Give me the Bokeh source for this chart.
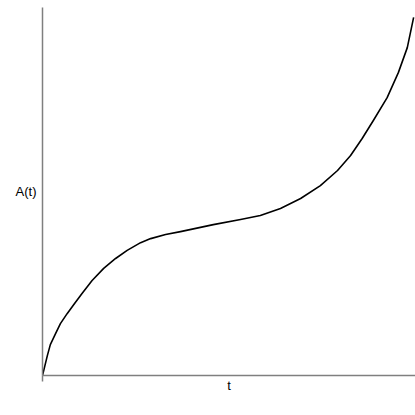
from bokeh.plotting import figure
from bokeh.models import Range1d, FixedTicker
from bokeh.embed import file_html
from bokeh.resources import INLINE

# curve values
t_values = [0.0, 0.13, 0.21, 0.35, 0.48, 0.66, 0.84, 1.06, 1.33, 1.64, 1.96,
            2.27, 2.63, 2.90, 3.30, 3.70, 4.58, 5.31, 5.84, 6.38, 6.92, 7.45,
            7.91, 8.26, 8.57, 8.87, 9.24, 9.54, 9.78, 9.95]
a_values = [0.0, 0.54, 0.84, 1.14, 1.41, 1.68, 1.93, 2.23, 2.58, 2.91, 3.18,
            3.40, 3.61, 3.72, 3.83, 3.91, 4.10, 4.24, 4.35, 4.54, 4.81, 5.16,
            5.57, 5.98, 6.44, 6.93, 7.55, 8.23, 8.91, 9.73]

x_label = "t"
y_label = "A(t)"

p = figure(width=415, height=400, output_backend="svg", toolbar_location=None,
           x_range=Range1d(0, 10), y_range=Range1d(0, 10),
           min_border_left=42, min_border_right=0, min_border_top=7,
           min_border_bottom=25)
p.outline_line_color = None
p.grid.visible = False
p.background_fill_color = "white"
p.border_fill_color = "white"

axis_color = "#7f7f7f"
p.xaxis.ticker = FixedTicker(ticks=[0])
p.xaxis.major_label_overrides = {0: ""}
p.xaxis.major_label_standoff = 0
p.xaxis.major_tick_out = 6
p.xaxis.major_tick_in = 0
p.xaxis.major_tick_line_color = axis_color
p.xaxis.major_tick_line_width = 1.5
p.xaxis.minor_tick_line_color = None
p.xaxis.axis_line_color = axis_color
p.xaxis.axis_line_width = 1.5
p.xaxis.axis_label = x_label
p.xaxis.axis_label_standoff = -4
p.xaxis.axis_label_text_font = "Liberation Sans"
p.xaxis.axis_label_text_font_size = "13px"
p.xaxis.axis_label_text_font_style = "normal"
p.xaxis.axis_label_text_color = "black"

p.yaxis.ticker = FixedTicker(ticks=[])
p.yaxis.major_tick_line_color = None
p.yaxis.minor_tick_line_color = None
p.yaxis.axis_line_color = axis_color
p.yaxis.axis_line_width = 1.5
p.yaxis.axis_label = y_label
p.yaxis.axis_label_orientation = "horizontal"
p.yaxis.axis_label_standoff = 6
p.yaxis.axis_label_text_baseline = "top"
p.yaxis.axis_label_text_font = "Liberation Sans"
p.yaxis.axis_label_text_font_size = "13px"
p.yaxis.axis_label_text_font_style = "normal"
p.yaxis.axis_label_text_color = "black"

p.line(t_values, a_values, line_color="black", line_width=1.6,
       line_join="round")

open("out.html", "w").write(file_html(p, INLINE))
